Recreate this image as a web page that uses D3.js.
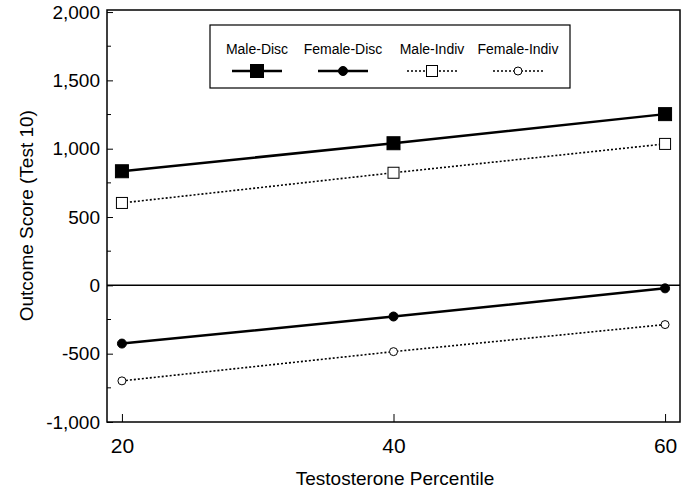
<!DOCTYPE html>
<html>
<head>
<meta charset="utf-8">
<script src="https://cdn.jsdelivr.net/npm/d3@7"></script>
<style>
  body { margin: 0; background: #fff; }
  svg { font-family: "Liberation Sans", Arial, sans-serif; }
</style>
</head>
<body>
<svg id="chart"></svg>
<script>
// Data
const percentiles = [20, 40, 60];
const maleDisc = [835, 1040, 1253];
const femaleDisc = [-426, -228, -22];
const maleIndiv = [603, 824, 1035];
const femaleIndiv = [-699, -485, -287];
const yTicks = [-1000, -500, 0, 500, 1000, 1500, 2000];
const seriesNames = ["Male-Disc", "Female-Disc", "Male-Indiv", "Female-Indiv"];

const width = 683, height = 490;
const margin = { top: 10, right: 3, bottom: 68, left: 107 };

const svg = d3.select("#chart")
  .attr("width", width)
  .attr("height", height);

const x = d3.scaleLinear().domain([18.9, 61.1]).range([margin.left, width - margin.right]);
const y = d3.scaleLinear().domain([-1000, 2015]).range([height - margin.bottom, margin.top]);

// Styles per series
const series = [
  { name: seriesNames[0], values: maleDisc, dash: null, width: 2.5, marker: "square", fill: "#000", size: 13 },
  { name: seriesNames[1], values: femaleDisc, dash: null, width: 2.5, marker: "circle", fill: "#000", size: 4.5 },
  { name: seriesNames[2], values: maleIndiv, dash: "2,2", width: 1.6, marker: "square", fill: "#fff", size: 11 },
  { name: seriesNames[3], values: femaleIndiv, dash: "2,2", width: 1.6, marker: "circle", fill: "#fff", size: 4 }
];

// Plot frame
svg.append("rect")
  .attr("x", margin.left)
  .attr("y", margin.top)
  .attr("width", width - margin.left - margin.right)
  .attr("height", height - margin.top - margin.bottom)
  .attr("fill", "none")
  .attr("stroke", "#000")
  .attr("stroke-width", 1.5);

// Y axis, ticks drawn inward
const fmt = d3.format(",");
const yAxis = svg.append("g")
  .attr("transform", `translate(${margin.left},0)`)
  .call(d3.axisLeft(y).tickValues(yTicks).tickSize(-6).tickPadding(7)
    .tickFormat(d => fmt(d).replace("\u2212", "-")));
yAxis.select(".domain").remove();
yAxis.selectAll("text").style("font-size", "19px").attr("fill", "#000");

// minor y ticks
svg.append("g")
  .selectAll("line")
  .data(d3.range(-750, 2000, 500))
  .join("line")
  .attr("x1", margin.left)
  .attr("x2", margin.left + 4)
  .attr("y1", d => y(d))
  .attr("y2", d => y(d))
  .attr("stroke", "#000");

// X axis
const xAxis = svg.append("g")
  .attr("transform", `translate(0,${height - margin.bottom})`)
  .call(d3.axisBottom(x).tickValues(percentiles).tickSize(-8).tickPadding(16));
xAxis.select(".domain").remove();
xAxis.selectAll("text").style("font-size", "21px").attr("fill", "#000");

// zero line
svg.append("line")
  .attr("x1", margin.left)
  .attr("x2", width - margin.right)
  .attr("y1", y(0))
  .attr("y2", y(0))
  .attr("stroke", "#000")
  .attr("stroke-width", 1.5);

// Axis titles
svg.append("text")
  .attr("x", 395)
  .attr("y", 485)
  .attr("text-anchor", "middle")
  .style("font-size", "19px")
  .text("Testosterone Percentile");

svg.append("text")
  .attr("transform", `translate(33,${y(510)}) rotate(-90)`)
  .attr("text-anchor", "middle")
  .style("font-size", "19px")
  .text("Outcome Score (Test 10)");

// Lines and markers
const line = d3.line().x((d, i) => x(percentiles[i])).y(d => y(d));

function drawMarker(g, s, cx, cy) {
  if (s.marker === "square") {
    g.append("rect")
      .attr("x", cx - s.size / 2).attr("y", cy - s.size / 2)
      .attr("width", s.size).attr("height", s.size)
      .attr("fill", s.fill).attr("stroke", "#000").attr("stroke-width", 1);
  } else {
    g.append("circle")
      .attr("cx", cx).attr("cy", cy).attr("r", s.size)
      .attr("fill", s.fill).attr("stroke", "#000").attr("stroke-width", 1);
  }
}

series.forEach(s => {
  svg.append("path")
    .datum(s.values)
    .attr("d", line)
    .attr("fill", "none")
    .attr("stroke", "#000")
    .attr("stroke-width", s.width)
    .attr("stroke-dasharray", s.dash);
  const g = svg.append("g");
  s.values.forEach((v, i) => drawMarker(g, s, x(percentiles[i]), y(v)));
});

// Legend
const legend = svg.append("g");
legend.append("rect")
  .attr("x", 210).attr("y", 25)
  .attr("width", 360).attr("height", 63)
  .attr("fill", "#fff")
  .attr("stroke", "#000")
  .attr("stroke-width", 1.2);

const legendX = [257, 343, 432, 518];
series.forEach((s, i) => {
  legend.append("text")
    .attr("x", legendX[i])
    .attr("y", 54)
    .attr("text-anchor", "middle")
    .style("font-size", "14px")
    .text(s.name);
  legend.append("line")
    .attr("x1", legendX[i] - 25).attr("x2", legendX[i] + 25)
    .attr("y1", 71).attr("y2", 71)
    .attr("stroke", "#000")
    .attr("stroke-width", s.width)
    .attr("stroke-dasharray", s.dash);
  drawMarker(legend, s, legendX[i], 71);
});
</script>
</body>
</html>
